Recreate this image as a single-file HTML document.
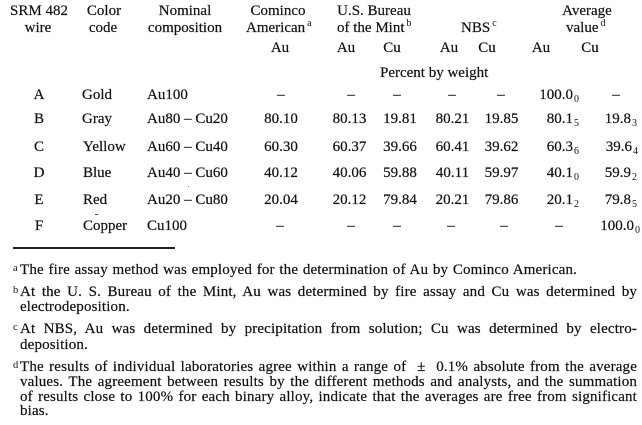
<!DOCTYPE html>
<html>
<head>
<meta charset="utf-8">
<style>
  html,body{margin:0;padding:0;background:#fff;}
  body{width:642px;height:425px;position:relative;overflow:hidden;
       font-family:"Liberation Serif","DejaVu Serif",serif;color:#111;-webkit-text-stroke:0.2px #111;}
  .t{position:absolute;font-size:15px;line-height:15px;white-space:nowrap;}
  .c{transform:translateX(-50%);}
  .r{transform:translateX(-100%);}
  .sp{position:relative;top:-6px;font-size:10px;margin-left:2px;-webkit-text-stroke:0;}
  .sb{position:relative;top:3px;font-size:10px;margin-left:1px;-webkit-text-stroke:0;}
  .fn{position:absolute;left:20px;width:617px;font-size:15px;line-height:15px;
      text-align:justify;text-align-last:justify;letter-spacing:0.15px;}
  .fl{position:absolute;left:20px;font-size:15px;line-height:15px;white-space:nowrap;letter-spacing:0.15px;}
  .fs{position:absolute;left:13px;font-size:10.5px;line-height:10.5px;-webkit-text-stroke:0;}
</style>
</head>
<body>
<!-- Header line 1 -->
<div class="t c" style="left:39px;top:4.4px">SRM 482</div>
<div class="t c" style="left:104px;top:4.4px">Color</div>
<div class="t c" style="left:185px;top:4.4px">Nominal</div>
<div class="t c" style="left:278px;top:4.4px">Cominco</div>
<div class="t c" style="left:374px;top:4.4px">U.S. Bureau</div>
<div class="t c" style="left:587px;top:4.4px">Average</div>

<!-- Header line 2 -->
<div class="t c" style="left:38px;top:20.6px">wire</div>
<div class="t c" style="left:103px;top:20.6px">code</div>
<div class="t c" style="left:185px;top:20.6px">composition</div>
<div class="t" style="left:246px;top:20.6px">American<span class="sp">a</span></div>
<div class="t" style="left:337px;top:20.6px">of the Mint<span class="sp">b</span></div>
<div class="t" style="left:461px;top:20.6px">NBS<span class="sp">c</span></div>
<div class="t" style="left:566px;top:20.6px">value<span class="sp">d</span></div>

<!-- Header line 3 -->
<div class="t c" style="left:280px;top:40.8px">Au</div>
<div class="t c" style="left:346px;top:40.8px">Au</div>
<div class="t c" style="left:392px;top:40.8px">Cu</div>
<div class="t c" style="left:449px;top:40.8px">Au</div>
<div class="t c" style="left:487px;top:40.8px">Cu</div>
<div class="t c" style="left:541px;top:40.8px">Au</div>
<div class="t c" style="left:590px;top:40.8px">Cu</div>

<div class="t" style="left:380px;top:65.5px">Percent by weight</div>

<!-- Row A -->
<div class="t c" style="left:39px;top:88px">A</div>
<div class="t" style="left:82px;top:88px">Gold</div>
<div class="t" style="left:147px;top:88px">Au100</div>
<div class="t c" style="left:281px;top:88px">–</div>
<div class="t c" style="left:351px;top:88px">–</div>
<div class="t c" style="left:397px;top:88px">–</div>
<div class="t c" style="left:452px;top:88px">–</div>
<div class="t c" style="left:501px;top:88px">–</div>
<div class="t r" style="left:579px;top:88px">100.0<span class="sb">0</span></div>
<div class="t c" style="left:616px;top:88px">–</div>

<!-- Row B -->
<div class="t c" style="left:39px;top:112px">B</div>
<div class="t" style="left:82px;top:112px">Gray</div>
<div class="t" style="left:147px;top:112px">Au80 – Cu20</div>
<div class="t c" style="left:281px;top:112px">80.10</div>
<div class="t c" style="left:349.5px;top:112px">80.13</div>
<div class="t c" style="left:400px;top:112px">19.81</div>
<div class="t c" style="left:452.5px;top:112px">80.21</div>
<div class="t c" style="left:501.5px;top:112px">19.85</div>
<div class="t r" style="left:579px;top:112px">80.1<span class="sb">5</span></div>
<div class="t r" style="left:637px;top:112px">19.8<span class="sb">3</span></div>

<!-- Row C -->
<div class="t c" style="left:39px;top:139.5px">C</div>
<div class="t" style="left:83px;top:139.5px">Yellow</div>
<div class="t" style="left:147px;top:139.5px">Au60 – Cu40</div>
<div class="t c" style="left:281px;top:139.5px">60.30</div>
<div class="t c" style="left:349.5px;top:139.5px">60.37</div>
<div class="t c" style="left:400px;top:139.5px">39.66</div>
<div class="t c" style="left:452.5px;top:139.5px">60.41</div>
<div class="t c" style="left:501.5px;top:139.5px">39.62</div>
<div class="t r" style="left:579px;top:139.5px">60.3<span class="sb">6</span></div>
<div class="t r" style="left:638px;top:139.5px">39.6<span class="sb">4</span></div>

<!-- Row D -->
<div class="t c" style="left:39px;top:165.5px">D</div>
<div class="t" style="left:83px;top:165.5px">Blue</div>
<div class="t" style="left:147px;top:165.5px">Au40 – Cu60</div>
<div class="t c" style="left:281px;top:165.5px">40.12</div>
<div class="t c" style="left:349.5px;top:165.5px">40.06</div>
<div class="t c" style="left:400px;top:165.5px">59.88</div>
<div class="t c" style="left:452.5px;top:165.5px">40.11</div>
<div class="t c" style="left:501.5px;top:165.5px">59.97</div>
<div class="t r" style="left:579px;top:165.5px">40.1<span class="sb">0</span></div>
<div class="t r" style="left:637px;top:165.5px">59.9<span class="sb">2</span></div>

<!-- Row E -->
<div class="t c" style="left:39px;top:192.5px">E</div>
<div class="t" style="left:83px;top:192.5px">Red</div>
<div class="t" style="left:147px;top:192.5px">Au20 – Cu80</div>
<div class="t c" style="left:281px;top:192.5px">20.04</div>
<div class="t c" style="left:349.5px;top:192.5px">20.12</div>
<div class="t c" style="left:400px;top:192.5px">79.84</div>
<div class="t c" style="left:452.5px;top:192.5px">20.21</div>
<div class="t c" style="left:501.5px;top:192.5px">79.86</div>
<div class="t r" style="left:579px;top:192.5px">20.1<span class="sb">2</span></div>
<div class="t r" style="left:637px;top:192.5px">79.8<span class="sb">5</span></div>

<!-- Row F -->
<div style="position:absolute;left:95px;top:214px;width:3px;height:1px;background:#444"></div>
<div style="position:absolute;left:188px;top:186px;width:1px;height:1px;background:#666"></div>
<div class="t c" style="left:39px;top:219px">F</div>
<div class="t" style="left:83px;top:219px">Copper</div>
<div class="t" style="left:147px;top:219px">Cu100</div>
<div class="t c" style="left:280px;top:219px">–</div>
<div class="t c" style="left:351px;top:219px">–</div>
<div class="t c" style="left:397px;top:219px">–</div>
<div class="t c" style="left:451px;top:219px">–</div>
<div class="t c" style="left:504px;top:219px">–</div>
<div class="t c" style="left:559px;top:219px">–</div>
<div class="t r" style="left:640px;top:219px">100.0<span class="sb">0</span></div>

<!-- Rule -->
<div style="position:absolute;left:13px;top:247px;width:162px;height:1.5px;background:#222"></div>

<!-- Footnotes -->
<div class="fs" style="top:263.5px">a</div>
<div class="fn" style="top:262.5px;width:557px">The fire assay method was employed for the determination of Au by Cominco American.</div>

<div class="fs" style="top:285.5px">b</div>
<div class="fn" style="top:284.5px">At the U. S. Bureau of the Mint, Au was determined by fire assay and Cu was determined by</div>
<div class="fl" style="top:299.5px">electrodeposition.</div>

<div class="fs" style="top:322.5px">c</div>
<div class="fn" style="top:321.5px">At NBS, Au was determined by precipitation from solution; Cu was determined by electro-</div>
<div class="fl" style="top:337.5px">deposition.</div>

<div class="fs" style="top:360.5px">d</div>
<div class="fn" style="top:359.5px">The results of individual laboratories agree within a range of &nbsp;± &nbsp;0.1% absolute from the average</div>
<div class="fn" style="top:374.5px">values. The agreement between results by the different methods and analysts, and the summation</div>
<div class="fn" style="top:389.5px">of results close to 100% for each binary alloy, indicate that the averages are free from significant</div>
<div class="fl" style="top:404px">bias.</div>
</body>
</html>
